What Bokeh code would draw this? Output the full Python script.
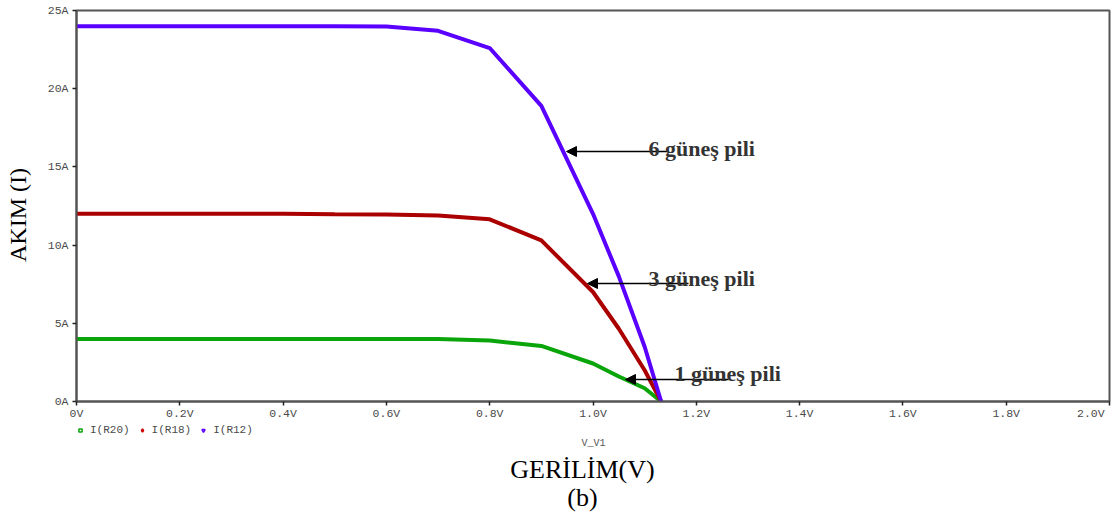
from bokeh.plotting import figure
from bokeh.layouts import column
from bokeh.models import (Range1d, FixedTicker, Label, Arrow, NormalHead, Legend, LegendItem)
from bokeh.embed import file_html
from bokeh.resources import INLINE

# ---------------- data ----------------
voltage = [0.0, 0.1, 0.2, 0.3, 0.4, 0.5, 0.6, 0.7, 0.8, 0.9, 1.0, 1.05, 1.1, 1.132]
i_r20 = [4.0, 4.0, 4.0, 4.0, 4.0, 4.0, 4.0, 4.0, 3.9, 3.55, 2.43, 1.6, 0.85, 0.0]          # 1 güneş pili
i_r18 = [12.0, 12.0, 12.0, 12.0, 12.0, 11.97, 11.95, 11.9, 11.65, 10.3, 7.0, 4.65, 2.0, 0.0]  # 3 güneş pili
i_r12 = [24.0, 24.0, 24.0, 24.0, 24.0, 24.0, 23.97, 23.7, 22.6, 18.9, 12.0, 8.0, 3.5, 0.0]   # 6 güneş pili

series_names = ["I(R20)", "I(R18)", "I(R12)"]
annot_texts = ["1 güneş pili", "3 güneş pili", "6 güneş pili"]

x_ticks = [0, 0.2, 0.4, 0.6, 0.8, 1.0, 1.2, 1.4, 1.6, 1.8, 2.0]
x_tick_labels = ["0V", "0.2V", "0.4V", "0.6V", "0.8V", "1.0V", "1.2V", "1.4V", "1.6V", "1.8V", "2.0V"]
y_ticks = [0, 5, 10, 15, 20, 25]
y_tick_labels = ["0A", "5A", "10A", "15A", "20A", "25A"]

# ---------------- styles ----------------
GREEN = "#0aa50a"
RED = "#ab0000"
BLUE = "#5a00ff"
AXIS_COL = "#555555"
TICK_TXT = "#4a4a4a"
MONO = "Liberation Mono"
SERIF = "Liberation Serif"
NB = "\u00a0"

W, H = 1111, 514
FL, FR, FT, FB = 76, 1109, 10, 401   # frame pixel box
AX_H = 18                            # height of x-axis strip below frame
TOP2 = FB + AX_H                     # top of lower strip

def vx(px):
    return (px - FL) / (FR - FL) * 2.0
def ay(py):
    return (FB - py) / (FB - FT) * 25.0

p = figure(frame_width=FR - FL, frame_height=FB - FT,
           x_range=Range1d(0, 2), y_range=Range1d(0, 25),
           output_backend="svg", toolbar_location=None,
           min_border_left=FL, min_border_right=W - FR, min_border_top=FT,
           min_border_bottom=AX_H)
p.grid.visible = False
p.outline_line_color = AXIS_COL
p.outline_line_width = 2
p.background_fill_color = "white"
p.border_fill_color = "white"

# axes
p.xaxis.ticker = FixedTicker(ticks=x_ticks)
ov = dict(zip(x_ticks, x_tick_labels))
ov[x_ticks[-1]] = x_tick_labels[-1] + NB   # keep last label inside the canvas
p.xaxis.major_label_overrides = ov
p.yaxis.ticker = FixedTicker(ticks=y_ticks)
p.yaxis.major_label_overrides = dict(zip(y_ticks, y_tick_labels))
for ax in (p.xaxis[0], p.yaxis[0]):
    ax.axis_line_color = AXIS_COL
    ax.axis_line_width = 2
    ax.major_tick_line_color = "#222222"
    ax.major_tick_line_width = 1.5
    ax.major_tick_out = 4
    ax.major_tick_in = 0
    ax.minor_tick_line_color = None
    ax.major_label_text_font = MONO
    ax.major_label_text_font_size = "11.5px"
    ax.major_label_text_color = TICK_TXT
p.xaxis.major_label_standoff = 1
p.yaxis.major_label_standoff = 4
p.yaxis.axis_label = "AKIM (I)" + NB * 3
p.yaxis.axis_label_text_font = SERIF
p.yaxis.axis_label_text_font_size = "24px"
p.yaxis.axis_label_text_font_style = "normal"
p.yaxis.axis_label_text_color = "black"
p.yaxis.axis_label_standoff = 14

# curves
p.line(voltage, i_r20, line_color=GREEN, line_width=4)
p.line(voltage, i_r18, line_color=RED, line_width=4)
p.line(voltage, i_r12, line_color=BLUE, line_width=4)

# arrows + annotation texts
arrow_y = [ay(379), ay(283), ay(151)]
arrow_head_x = [vx(625), vx(587), vx(566)]
arrow_tail_x = [vx(728), vx(688), vx(668)]
text_x = [vx(674), vx(648), vx(648)]
text_y = [ay(373), ay(278), ay(148)]
for k in range(3):
    p.add_layout(Arrow(end=NormalHead(size=10, fill_color="black", line_color="black"),
                       x_start=arrow_tail_x[k], y_start=arrow_y[k],
                       x_end=arrow_head_x[k], y_end=arrow_y[k],
                       line_color="black", line_width=1.5))
    p.add_layout(Label(x=text_x[k], y=text_y[k], text=annot_texts[k],
                       text_font=SERIF, text_font_style="bold", text_font_size="22px",
                       text_color="#333333", text_align="left", text_baseline="alphabetic"))

# ---------------- lower strip: legend + x titles (data units = canvas pixels) ----------------
p2 = figure(width=W, height=H - TOP2, x_range=Range1d(FL, FR), y_range=Range1d(H, TOP2),
            output_backend="svg", toolbar_location=None,
            x_axis_location=None, y_axis_location=None,
            min_border_left=FL, min_border_right=W - FR, min_border_top=0, min_border_bottom=0)
p2.grid.visible = False
p2.outline_line_color = None
p2.background_fill_color = "white"
p2.border_fill_color = "white"

# legend proxies (kept outside the visible range)
OFF = [-5000]
lg = p2.scatter(OFF, OFF, marker="square", size=6, line_color=GREEN, fill_color="white", line_width=1.5)
lr = p2.scatter(OFF, OFF, marker="diamond", size=8, line_color="#cc0000", fill_color="white", line_width=1.5)
lb = p2.scatter(OFF, OFF, marker="inverted_triangle", size=7, line_color=BLUE, fill_color="white", line_width=1.5)
legend = Legend(items=[LegendItem(label=series_names[0], renderers=[lg]),
                       LegendItem(label=series_names[1], renderers=[lr]),
                       LegendItem(label=series_names[2], renderers=[lb])],
                orientation="horizontal", location=(0, H - 433),
                label_text_font=MONO, label_text_font_size="11px", label_text_color=TICK_TXT,
                glyph_width=8, glyph_height=8, label_standoff=6, spacing=8,
                padding=0, margin=0, border_line_color=None, background_fill_alpha=0,
                label_height=12)
p2.add_layout(legend)

p2.add_layout(Label(x=593, y=440, text="V_V1", text_font=MONO, text_font_size="10px",
                    text_color="#555555", text_align="center", text_baseline="middle"))
p2.add_layout(Label(x=582, y=466, text="GERİLİM(V)", text_font=SERIF, text_font_size="26px",
                    text_color="black", text_align="center", text_baseline="middle"))
p2.add_layout(Label(x=582, y=494, text="(b)", text_font=SERIF, text_font_size="26px",
                    text_color="black", text_align="center", text_baseline="middle"))

layout = column(p, p2, spacing=0)
open("out.html", "w").write(file_html(layout, INLINE))
